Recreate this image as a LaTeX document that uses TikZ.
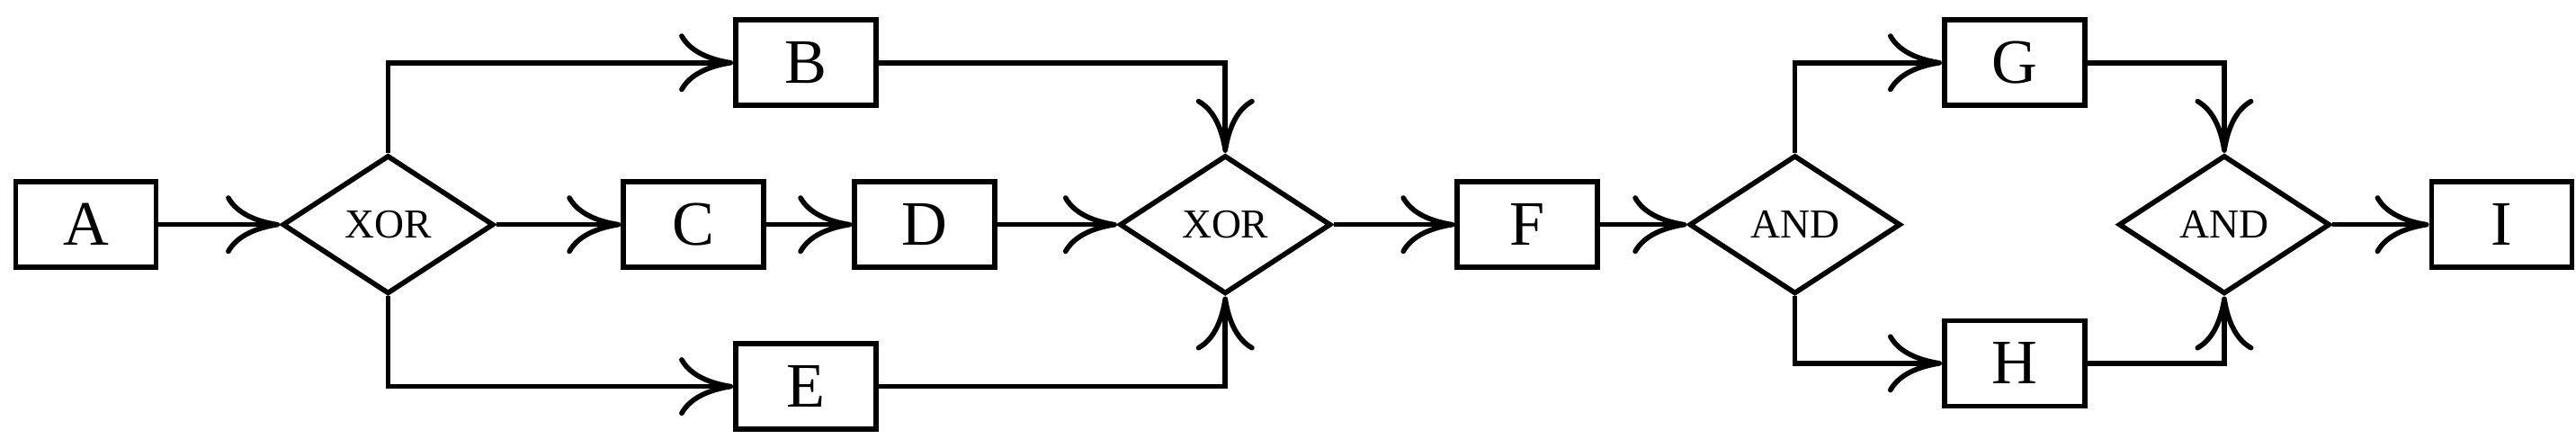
\documentclass[tikz,border=0pt]{standalone}
\usepackage{fontspec}
\setmainfont{Liberation Serif}
\usetikzlibrary{shapes.geometric,arrows.meta}
\begin{document}
\begin{tikzpicture}[x=0.01836cm,y=-0.01836cm,
  box/.style={draw,line width=1.6pt,minimum width=1.56cm,minimum height=0.95cm,inner sep=0,font=\fontsize{20}{24}\selectfont},
  gate/.style={draw,diamond,line width=1.6pt,aspect=1.52,minimum width=2.35cm,minimum height=1.54cm,inner sep=0,font=\fontsize{13}{15}\selectfont},
  arr/.style={line width=1.6pt,-{Computer Modern Rightarrow[length=6mm,width=6.5mm,line width=1.6pt]}}]
\useasboundingbox (0,0) rectangle (1560,271.2);
\node[box] (A) at (52,136) {A};
\node[gate] (X1) at (235,136) {XOR};
\node[box] (B) at (488,38) {B};
\node[box] (C) at (420,136) {C};
\node[box] (D) at (560,136) {D};
\node[box] (E) at (488,234) {E};
\node[gate] (X2) at (742,136) {XOR};
\node[box] (F) at (925,136) {F};
\node[gate] (N1) at (1087,136) {AND};
\node[box] (G) at (1220,38) {G};
\node[box] (H) at (1220,220) {H};
\node[gate] (N2) at (1347,136) {AND};
\node[box] (I) at (1515,136) {I};
\draw[arr] (A) -- (X1);
\draw[arr] (X1.north) |- (B);
\draw[arr] (X1) -- (C);
\draw[arr] (C) -- (D);
\draw[arr] (D) -- (X2);
\draw[arr] (X1.south) |- (E);
\draw[arr] (B) -| (X2.north);
\draw[arr] (E) -| (X2.south);
\draw[arr] (X2) -- (F);
\draw[arr] (F) -- (N1);
\draw[arr] (N1.north) |- (G);
\draw[arr] (N1.south) |- (H);
\draw[arr] (G) -| (N2.north);
\draw[arr] (H) -| (N2.south);
\draw[arr] (N2) -- (I);
\end{tikzpicture}
\end{document}
